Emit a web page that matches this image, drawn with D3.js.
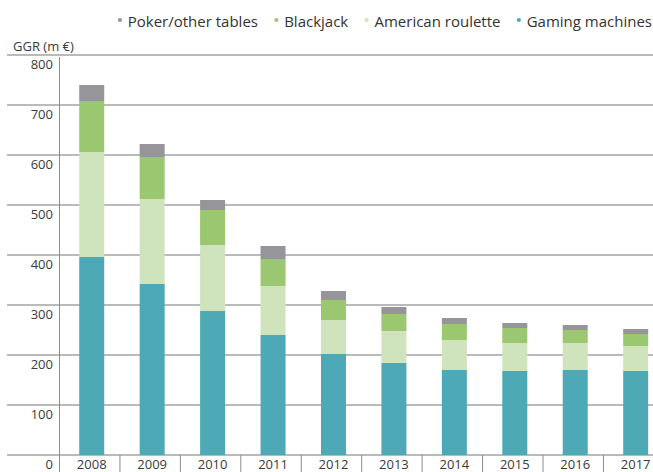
<!DOCTYPE html>
<meta charset="utf-8">
<script src="https://d3js.org/d3.v7.min.js"></script>
<style>
  body { margin: 0; background: #fff; }
  svg { display: block; font-family: "Open Sans", sans-serif; }
  .tick-label { font-size: 13px; fill: #3a3a3a; }
  .legend text { font-size: 15px; fill: #333; }
</style>
<body></body>
<script>
  // data (GGR in m €)
  var years = ["2008", "2009", "2010", "2011", "2012", "2013", "2014", "2015", "2016", "2017"];
  var gaming   = [396, 342, 288, 240, 202, 184, 170, 168, 170, 168];
  var roulette = [210, 170, 132,  98,  68,  64,  60,  56,  54,  50];
  var blackjack= [102,  84,  70,  54,  40,  34,  32,  30,  26,  24];
  var poker    = [ 32,  26,  20,  26,  18,  14,  12,  10,  10,  10];
  var yTicks = [0, 100, 200, 300, 400, 500, 600, 700, 800];

  var seriesNames = ["Gaming machines", "American roulette", "Blackjack", "Poker/other tables"];
  var colors = ["#4ea9b7", "#cfe4bd", "#9bc771", "#96969a"];

  var width = 653, height = 472;
  var margin = {top: 55, bottom: 17, left: 59.5};

  var svg = d3.select('body').append('svg')
    .attr('width', width)
    .attr('height', height);

  var rows = years.map(function(y, i) {
    return {year: y, "Gaming machines": gaming[i], "American roulette": roulette[i],
            "Blackjack": blackjack[i], "Poker/other tables": poker[i]};
  });
  var stacked = d3.stack().keys(seriesNames)(rows);

  var x = d3.scaleBand()
    .domain(years)
    .range([margin.left, margin.left + 60.44 * years.length]);
  var y = d3.scaleLinear()
    .domain([0, 800])
    .range([height - margin.bottom, margin.top]);
  var color = d3.scaleOrdinal(seriesNames, colors);
  var barW = 25;
  var nudge = 2; // bars sit a bit right of band centre

  // grid lines
  svg.append('g')
    .selectAll('line')
    .data(yTicks)
    .join('line')
      .attr('x1', 7)
      .attr('x2', width)
      .attr('y1', d => y(d))
      .attr('y2', d => y(d))
      .attr('stroke', '#a3a3a3')
      .attr('stroke-width', 1.4);

  // bars
  svg.append('g')
    .selectAll('g')
    .data(stacked)
    .join('g')
      .attr('fill', d => color(d.key))
    .selectAll('rect')
    .data(d => d)
    .join('rect')
      .attr('x', d => x(d.data.year) + x.bandwidth() / 2 + nudge - barW / 2)
      .attr('width', barW)
      .attr('y', d => y(d[1]))
      .attr('height', d => y(d[0]) - y(d[1]));

  // y axis line
  svg.append('line')
    .attr('x1', margin.left).attr('x2', margin.left)
    .attr('y1', margin.top + 2).attr('y2', height)
    .attr('stroke', '#8c8c8c').attr('stroke-width', 1);

  // category dividers under the baseline
  svg.append('g')
    .selectAll('line')
    .data(years.slice(1).concat(['end']))
    .join('line')
      .attr('x1', (d, i) => x.range()[0] + x.step() * (i + 1))
      .attr('x2', (d, i) => x.range()[0] + x.step() * (i + 1))
      .attr('y1', y(0))
      .attr('y2', height)
      .attr('stroke', '#8c8c8c');

  // y tick labels (hang under their grid line)
  svg.append('g')
    .selectAll('text')
    .data(yTicks)
    .join('text')
      .attr('class', 'tick-label')
      .attr('x', 53)
      .attr('y', d => y(d) + 14)
      .attr('text-anchor', 'end')
      .text(d => d);

  // x labels
  svg.append('g')
    .selectAll('text')
    .data(years)
    .join('text')
      .attr('class', 'tick-label')
      .attr('x', d => x(d) + x.bandwidth() / 2 + nudge)
      .attr('y', y(0) + 13.5)
      .attr('text-anchor', 'middle')
      .text(d => d);

  // y title
  svg.append('text')
    .attr('class', 'tick-label')
    .attr('x', 13)
    .attr('y', 50.5)
    .text('GGR (m €)');

  // legend, right aligned, left-to-right in reverse stack order
  var legend = svg.append('g').attr('class', 'legend');
  var items = seriesNames.slice().reverse();
  var right = 652;
  var pos = [];
  var tmp = legend.selectAll('text.m').data(items).join('text').attr('class', 'm').text(d => d);
  var widths = [];
  tmp.each(function() { widths.push(this.getComputedTextLength()); });
  tmp.remove();
  for (var i = items.length - 1; i >= 0; i--) {
    var tx = right - widths[i];
    pos[i] = tx;
    right = tx - 7.8 - 18.4;
  }
  var li = legend.selectAll('g')
    .data(items)
    .join('g')
      .attr('transform', (d, i) => 'translate(' + pos[i] + ',26.5)');
  li.append('circle')
    .attr('cx', -7.8)
    .attr('cy', -6.5)
    .attr('r', 2.1)
    .attr('fill', d => color(d));
  li.append('text')
    .text(d => d);
</script>
